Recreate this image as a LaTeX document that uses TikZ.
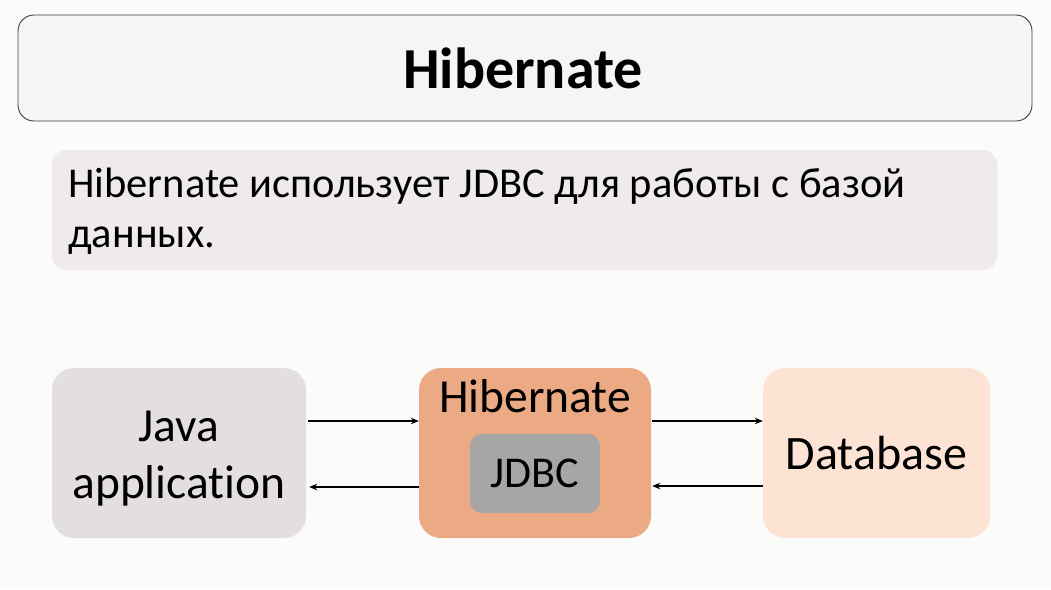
\documentclass[tikz,border=0pt]{standalone}
\usepackage{fontspec}
\setmainfont{Carlito}[Ligatures=NoCommon]
\usetikzlibrary{arrows.meta}
\definecolor{bg}{HTML}{FBFBFA}
\definecolor{titlefill}{HTML}{F5F5F5}
\definecolor{textfill}{HTML}{EEEBEA}
\definecolor{javafill}{HTML}{E2DFDE}
\definecolor{hibfill}{HTML}{EBAA83}
\definecolor{jdbcfill}{HTML}{A6A6A6}
\definecolor{dbfill}{HTML}{FCE3D4}
\tikzset{
  blk/.style={rounded corners=22pt, inner sep=0pt, text=black},
  conn/.style={-{Stealth[length=8pt,width=6.5pt]}, line width=2.3pt, black},
}
\begin{document}
\begin{tikzpicture}[x=1pt,y=-1pt]
\fill[bg] (0,0) rectangle (1051,589);
\useasboundingbox (0,0) rectangle (1051,589);
% title
\draw[fill=titlefill, draw=black!75, line width=0.9pt, rounded corners=16pt] (18,15) rectangle (1032,121);
\node[anchor=base, inner sep=0pt] (title) at (523,88) {\fontsize{58}{66}\selectfont\bfseries Hibernate};
% text box
\fill[textfill, rounded corners=14pt] (52,150) rectangle (997,270);
\node[anchor=base west, inner sep=0pt] (l1) at (68,197) {\fontsize{42.5}{50}\selectfont Hibernate использует JDBC для работы с базой};
\node[anchor=base west, inner sep=0pt] (l2) at (68,247) {\fontsize{42.5}{50}\selectfont данных.};
% blocks
\node[blk, fill=javafill, minimum width=254pt, minimum height=170pt] (java) at (179,453) {};
\node[anchor=base, inner sep=0pt] (javat1) at (179,441) {\fontsize{47.5}{55}\selectfont Java};
\node[anchor=base, inner sep=0pt] (javat2) at (179,498) {\fontsize{47.5}{55}\selectfont application};
\node[blk, fill=hibfill, minimum width=232pt, minimum height=170pt] (hib) at (535,453) {};
\node[anchor=base, inner sep=0pt] (hibt) at (535,412) {\fontsize{47.5}{55}\selectfont Hibernate};
\node[rounded corners=12pt, fill=jdbcfill, minimum width=130pt, minimum height=79pt, inner sep=0pt] (jdbc) at (535,473.5) {\fontsize{44}{50}\selectfont JDBC};
\node[blk, fill=dbfill, minimum width=227pt, minimum height=170pt] (db) at (876.5,453) {\fontsize{48}{55}\selectfont Database};
% connectors
\draw[conn] ([xshift=2pt,yshift=32pt]java.east) -- ([yshift=32pt]hib.west);
\draw[conn] ([xshift=1pt,yshift=32pt]hib.east) -- ([yshift=32pt]db.west);
\draw[conn] ([yshift=-34pt]hib.west) -- ([xshift=3pt,yshift=-34pt]java.east);
\draw[conn] ([yshift=-33pt]db.west) -- ([xshift=1pt,yshift=-33pt]hib.east);
\end{tikzpicture}
\end{document}
